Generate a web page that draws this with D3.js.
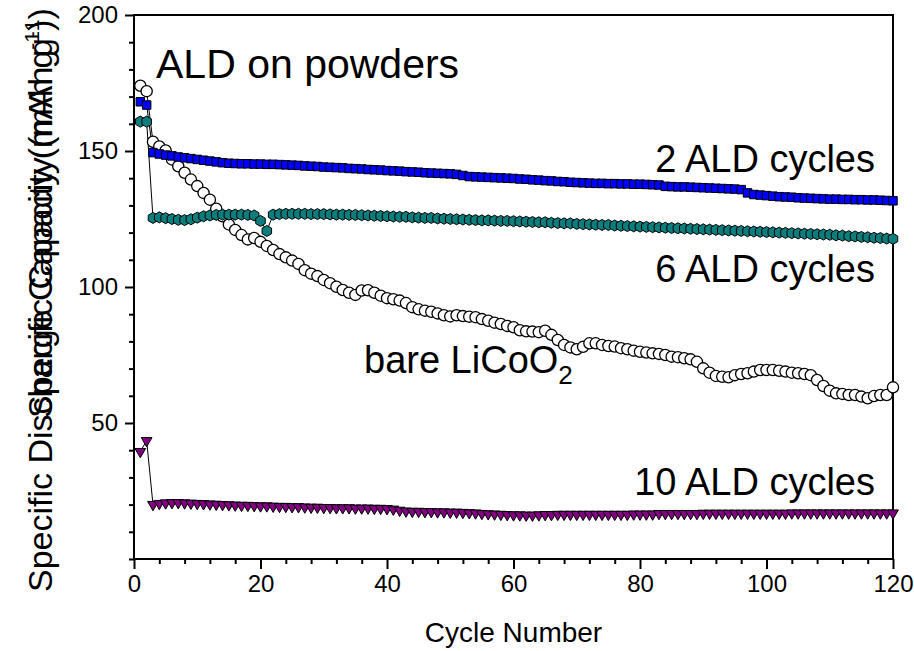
<!DOCTYPE html>
<html>
<head>
<meta charset="utf-8">
<script src="https://cdn.jsdelivr.net/npm/d3@7"></script>
<style>
  html, body { margin: 0; padding: 0; background: #ffffff; }
  svg { display: block; }
  text { font-family: "Liberation Sans", Arial, Helvetica, sans-serif; fill: #000; }
</style>
</head>
<body>
<script>
// Discharge capacity (mAh/g) per cycle, cycles 1..120
const bareLiCoO2 = [
  174.0, 172.0, 153.4, 151.7, 150.2, 146.9, 144.4, 142.0, 139.5, 137.1,
  134.6, 132.1, 128.8, 126.0, 123.0, 121.0, 119.1, 117.5, 118.0, 116.6,
  115.1, 113.6, 112.1, 110.9, 109.7, 108.5, 106.2, 104.9, 104.0, 102.6,
  101.4, 100.1, 98.9, 97.9, 97.1, 98.7, 98.8, 97.9, 96.8, 95.9,
  95.5, 95.0, 94.1, 92.6, 91.8, 91.3, 90.9, 90.3, 89.6, 89.2,
  89.6, 89.3, 89.1, 88.9, 88.2, 87.6, 86.9, 86.4, 85.7, 85.2,
  84.1, 83.7, 83.6, 83.4, 83.9, 82.4, 80.5, 78.7, 77.8, 77.1,
  78.0, 79.3, 79.3, 78.7, 78.3, 78.1, 77.5, 77.1, 76.6, 76.2,
  75.9, 75.6, 75.4, 75.0, 74.4, 74.2, 73.8, 73.4, 72.5, 70.1,
  68.5, 67.3, 67.0, 66.8, 67.6, 68.0, 68.3, 68.9, 69.5, 69.5,
  69.5, 69.2, 68.9, 68.5, 68.3, 68.0, 67.6, 65.8, 63.6, 61.9,
  60.9, 60.7, 60.3, 60.3, 59.7, 59.1, 59.9, 60.3, 60.3, 63.1
];

const ald2 = [
  168.1, 166.9, 149.4, 148.9, 148.5, 148.2, 147.8, 147.5, 147.2, 146.9,
  146.6, 146.3, 146.0, 145.7, 145.5, 145.4, 145.3, 145.3, 145.2, 145.2,
  145.1, 145.1, 145.0, 144.9, 144.8, 144.7, 144.5, 144.4, 144.3, 144.1,
  144.0, 143.9, 143.8, 143.6, 143.5, 143.4, 143.2, 143.1, 143.0, 142.8,
  142.7, 142.6, 142.4, 142.3, 142.2, 142.0, 141.9, 141.8, 141.7, 141.6,
  141.4, 141.0, 140.6, 140.5, 140.4, 140.3, 140.2, 140.1, 140.0, 139.9,
  139.7, 139.6, 139.4, 139.3, 139.1, 139.0, 138.8, 138.7, 138.5, 138.4,
  138.3, 138.2, 138.1, 138.1, 138.0, 138.0, 137.9, 137.9, 137.8, 137.8,
  137.7, 137.6, 137.5, 137.0, 136.9, 136.8, 136.8, 136.7, 136.6, 136.5,
  136.4, 136.3, 136.2, 136.1, 136.0, 135.8, 134.6, 134.0, 133.8, 133.6,
  133.4, 133.2, 133.1, 133.0, 132.8, 132.7, 132.6, 132.5, 132.4, 132.3,
  132.3, 132.2, 132.2, 132.1, 132.1, 132.0, 132.0, 131.9, 131.8, 131.7
];

const ald6 = [
  160.8, 160.8, 125.4, 125.6, 125.3, 125.0, 124.7, 124.6, 124.9, 125.5,
  126.0, 126.3, 126.5, 126.6, 126.6, 126.6, 126.6, 126.5, 126.3, 124.3,
  120.6, 126.6, 126.8, 126.9, 126.9, 126.9, 126.9, 126.8, 126.8, 126.8,
  126.7, 126.6, 126.6, 126.5, 126.5, 126.4, 126.3, 126.2, 126.1, 126.0,
  125.9, 125.8, 125.8, 125.6, 125.5, 125.4, 125.4, 125.2, 125.1, 125.0,
  124.9, 124.8, 124.7, 124.6, 124.5, 124.5, 124.4, 124.3, 124.3, 124.2,
  124.1, 124.0, 123.9, 123.8, 123.8, 123.6, 123.5, 123.4, 123.4, 123.2,
  123.1, 123.0, 122.9, 122.8, 122.8, 122.6, 122.5, 122.4, 122.3, 122.2,
  122.1, 122.0, 121.9, 121.8, 121.7, 121.6, 121.5, 121.4, 121.3, 121.2,
  121.1, 121.0, 120.9, 120.8, 120.7, 120.6, 120.5, 120.4, 120.3, 120.2,
  120.1, 120.0, 119.9, 119.8, 119.7, 119.6, 119.5, 119.4, 119.3, 119.2,
  119.0, 118.9, 118.7, 118.6, 118.4, 118.3, 118.1, 118.0, 117.8, 117.7
];

const ald10 = [
  39.5, 43.5, 20.0, 20.4, 20.6, 20.7, 20.7, 20.6, 20.5, 20.4,
  20.3, 20.2, 20.1, 20.0, 19.9, 19.8, 19.7, 19.7, 19.6, 19.5,
  19.5, 19.4, 19.3, 19.3, 19.2, 19.2, 19.1, 19.0, 19.0, 18.9,
  18.9, 18.8, 18.8, 18.8, 18.7, 18.7, 18.7, 18.6, 18.6, 18.5,
  18.3, 17.9, 17.6, 17.5, 17.5, 17.4, 17.4, 17.3, 17.3, 17.2,
  17.2, 17.1, 17.0, 16.9, 16.7, 16.6, 16.5, 16.4, 16.3, 16.2,
  16.2, 16.1, 16.1, 16.2, 16.3, 16.3, 16.4, 16.4, 16.4, 16.4,
  16.4, 16.4, 16.4, 16.4, 16.4, 16.4, 16.4, 16.4, 16.5, 16.5,
  16.5, 16.5, 16.7, 16.7, 16.7, 16.7, 16.7, 16.7, 16.7, 16.8,
  16.8, 16.8, 16.8, 16.8, 16.8, 16.8, 16.8, 16.8, 16.8, 16.8,
  16.8, 16.8, 16.8, 16.9, 16.9, 16.9, 16.9, 16.9, 16.9, 16.9,
  16.9, 16.9, 16.9, 16.9, 16.9, 16.9, 16.9, 16.9, 16.9, 16.9
];

const xMajorTicks = [0, 20, 40, 60, 80, 100, 120];
const xMinorTicks = [4, 8, 12, 16, 24, 28, 32, 36, 44, 48, 52, 56, 64, 68, 72, 76,
                     84, 88, 92, 96, 104, 108, 112, 116];
const yMajorTicks = [50, 100, 150, 200];
const yMinorTicks = [0, 10, 20, 30, 40, 60, 70, 80, 90, 110, 120, 130, 140, 160, 170, 180, 190];

const W = 914, H = 651;
const plotLeft = 134, plotRight = 893, plotTop = 15, plotBottom = 559;

const svg = d3.select("body").append("svg").attr("width", W).attr("height", H);

const x = d3.scaleLinear().domain([0, 120]).range([plotLeft, plotRight]);
const y = d3.scaleLinear().domain([0, 200]).range([plotBottom, plotTop]);

// Frame
svg.append("rect")
  .attr("x", plotLeft).attr("y", plotTop)
  .attr("width", plotRight - plotLeft).attr("height", plotBottom - plotTop)
  .attr("fill", "none").attr("stroke", "#000").attr("stroke-width", 2);

// Axes
function styleAxis(g) {
  g.select(".domain").remove();
  g.selectAll(".tick line").attr("stroke", "#000").attr("stroke-width", 2);
  g.selectAll(".tick text").style("font-family", '"Liberation Sans", Arial, sans-serif')
    .style("font-size", "24px").attr("fill", "#000");
}

svg.append("g").attr("transform", `translate(0,${plotBottom})`)
  .call(d3.axisBottom(x).tickValues(xMinorTicks).tickSize(5).tickFormat(""))
  .call(styleAxis);
svg.append("g").attr("transform", `translate(0,${plotBottom})`)
  .call(d3.axisBottom(x).tickValues(xMajorTicks).tickSize(10).tickPadding(6).tickFormat(d3.format("d")))
  .call(styleAxis);

svg.append("g").attr("transform", `translate(${plotLeft},0)`)
  .call(d3.axisLeft(y).tickValues(yMinorTicks).tickSize(5).tickFormat(""))
  .call(styleAxis);
svg.append("g").attr("transform", `translate(${plotLeft},0)`)
  .call(d3.axisLeft(y).tickValues(yMajorTicks).tickSize(9).tickPadding(7).tickFormat(d3.format("d")))
  .call(styleAxis);

// Series
const line = d3.line().x((d, i) => x(i + 1)).y(d => y(d));

function hexPath(r) {
  const p = d3.path();
  for (let k = 0; k < 6; k++) {
    const a = Math.PI / 2 + k * Math.PI / 3;
    const px = r * Math.cos(a), py = r * Math.sin(a);
    if (k === 0) p.moveTo(px, py); else p.lineTo(px, py);
  }
  p.closePath();
  return p.toString();
}

const series = [
  { values: bareLiCoO2, kind: "circle", fill: "#ffffff" },
  { values: ald6, kind: "hex", fill: "#0b7d7d" },
  { values: ald2, kind: "square", fill: "#0000ff" },
  { values: ald10, kind: "triangle", fill: "#800080" }
];

const plot = svg.append("g");
series.forEach(s => {
  plot.append("path").datum(s.values)
    .attr("d", line).attr("fill", "none")
    .attr("stroke", "#000").attr("stroke-width", 1);
});
series.forEach(s => {
  const g = plot.append("g");
  const pts = g.selectAll("g").data(s.values).join("g")
    .attr("transform", (d, i) => `translate(${x(i + 1)},${y(d)})`);
  if (s.kind === "circle") {
    pts.append("circle").attr("r", 5.6).attr("fill", s.fill).attr("stroke", "#000").attr("stroke-width", 1.3);
  } else if (s.kind === "hex") {
    pts.append("path").attr("d", hexPath(5.5)).attr("fill", s.fill).attr("stroke", "#000").attr("stroke-width", 1);
  } else if (s.kind === "square") {
    pts.append("path").attr("d", d3.symbol(d3.symbolSquare, 72)()).attr("fill", s.fill).attr("stroke", "#000").attr("stroke-width", 1);
  } else {
    pts.append("path").attr("d", d3.symbol(d3.symbolTriangle, 50)())
      .attr("transform", "rotate(180)")
      .attr("fill", s.fill).attr("stroke", "#000").attr("stroke-width", 1);
  }
});

// Annotations
const big = 38;
svg.append("text").attr("x", 156).attr("y", 78).style("font-size", "41px").text("ALD on powders");
svg.append("text").attr("x", 875).attr("y", 172).attr("text-anchor", "end").style("font-size", big + "px").text("2 ALD cycles");
svg.append("text").attr("x", 875).attr("y", 282).attr("text-anchor", "end").style("font-size", big + "px").text("6 ALD cycles");
svg.append("text").attr("x", 875).attr("y", 495).attr("text-anchor", "end").style("font-size", big + "px").text("10 ALD cycles");
const bare = svg.append("text").attr("x", 364).attr("y", 373).style("font-size", big + "px");
bare.append("tspan").text("bare LiCoO");
bare.append("tspan").attr("dy", 11).style("font-size", "26px").text("2");

// Axis titles
svg.append("text").attr("x", (plotLeft + plotRight) / 2).attr("y", 642).attr("text-anchor", "middle")
  .style("font-size", "28px").text("Cycle Number");

function yTitle(startY, words) {
  const t = svg.append("text").attr("transform", `translate(52,${startY}) rotate(-90)`)
    .style("font-size", "34px");
  t.append("tspan").text(words + " (mAh g");
  t.append("tspan").attr("dy", -13).style("font-size", "21px").text("-1");
  t.append("tspan").attr("dy", 13).text(")");
}
yTitle(592, "Specific Discharge Capacity");
yTitle(418, "Specific Capacity");
</script>
</body>
</html>
